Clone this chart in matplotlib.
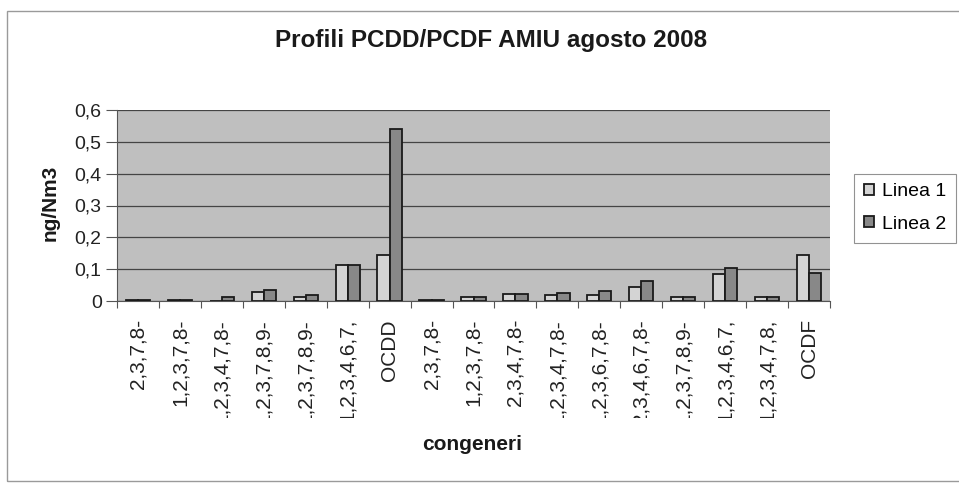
import numpy as np
import matplotlib
matplotlib.use("Agg")
import matplotlib.pyplot as plt
from matplotlib.patches import Rectangle
from matplotlib.transforms import Bbox, TransformedBbox

# ========== dati ==========
congeneri = ["2,3,7,8-", "1,2,3,7,8-", "1,2,3,4,7,8-", "1,2,3,7,8,9-", "1,2,3,7,8,9-",
             "1,2,3,4,6,7,", "OCDD", "2,3,7,8-", "1,2,3,7,8-", "2,3,4,7,8-",
             "1,2,3,4,7,8-", "1,2,3,6,7,8-", "2,3,4,6,7,8-", "1,2,3,7,8,9-",
             "1,2,3,4,6,7,", "1,2,3,4,7,8,", "OCDF"]
linea1 = [0.003, 0.004, 0.001, 0.029, 0.012, 0.113, 0.143, 0.004, 0.011, 0.021,
          0.020, 0.020, 0.043, 0.012, 0.085, 0.011, 0.143]
linea2 = [0.004, 0.004, 0.013, 0.035, 0.019, 0.113, 0.540, 0.003, 0.011, 0.021,
          0.026, 0.032, 0.062, 0.012, 0.103, 0.011, 0.088]
yticks = [0, 0.1, 0.2, 0.3, 0.4, 0.5, 0.6]
ytick_labels = ["0", "0,1", "0,2", "0,3", "0,4", "0,5", "0,6"]

plt.rcParams['font.family'] = ['Liberation Sans', 'DejaVu Sans']

W, H = 959, 484
fig = plt.figure(figsize=(W / 100, H / 100), dpi=100)
fig.patch.set_facecolor("white")

# cornice del grafico
fig.patches.append(Rectangle((7 / W, 1 - 481 / H), 955 / W, 470 / H, transform=fig.transFigure,
                             fill=False, edgecolor="#9a9a9a", linewidth=1.0))

ax = fig.add_axes([117 / W, 1 - 301 / H, 713 / W, 191 / H])
ax.set_facecolor("#bfbfbf")

x = np.arange(len(congeneri))
bw = 0.29
ax.bar(x - bw / 2, linea1, bw, color="#d4d4d4", edgecolor="#1a1a1a", linewidth=1.3,
       label="Linea 1", zorder=3)
ax.bar(x + bw / 2, linea2, bw, color="#888888", edgecolor="#1a1a1a", linewidth=1.3,
       label="Linea 2", zorder=3)

ax.set_xlim(-0.5, len(congeneri) - 0.5)
ax.set_ylim(0, 0.6)
ax.set_yticks(yticks)
ax.set_yticklabels(ytick_labels, fontsize=14, color="#222222")
ax.yaxis.grid(True, color="#444444", linewidth=0.9, zorder=1)

# tacche tra le categorie, etichette al centro
ax.set_xticks(np.arange(len(congeneri) + 1) - 0.5)
ax.set_xticklabels([])
ax.set_xticks(x, minor=True)
ax.set_xticklabels(congeneri, minor=True, rotation=90, fontsize=15, color="#222222")
ax.tick_params(axis="x", which="minor", length=0, pad=13)
ax.tick_params(axis="x", which="major", length=5, color="#555555")
ax.tick_params(axis="y", length=8, color="#555555", pad=3)

for s in ["top", "right"]:
    ax.spines[s].set_visible(False)
ax.spines["left"].set_color("#555555")
ax.spines["bottom"].set_color("#555555")

# etichette tagliate in basso come nell'originale
clip = TransformedBbox(Bbox([[0, 1 - 418 / H], [1, 1]]), fig.transFigure)
for t in ax.get_xticklabels(minor=True):
    t.set_clip_box(clip)
    t.set_clip_on(True)

fig.text(491 / W, 1 - 41 / H, "Profili PCDD/PCDF AMIU agosto 2008", ha="center", va="center",
         fontsize=17.5, fontweight="bold", color="#1a1a1a")
fig.text(472 / W, 1 - 445 / H, "congeneri", ha="center", va="center",
         fontsize=15, fontweight="bold", color="#1a1a1a")
fig.text(50 / W, 1 - 203 / H, "ng/Nm3", ha="center", va="center", rotation=90,
         fontsize=15, fontweight="bold", color="#1a1a1a")

leg = fig.legend(loc="center", bbox_to_anchor=(905 / W, 1 - 208 / H), fontsize=14,
                 frameon=True, fancybox=False, edgecolor="#777777", handlelength=0.5,
                 handleheight=0.5, handletextpad=0.4, labelspacing=0.8, borderpad=0.5)
leg.get_frame().set_linewidth(0.8)

fig.savefig("out.png", dpi=100)
